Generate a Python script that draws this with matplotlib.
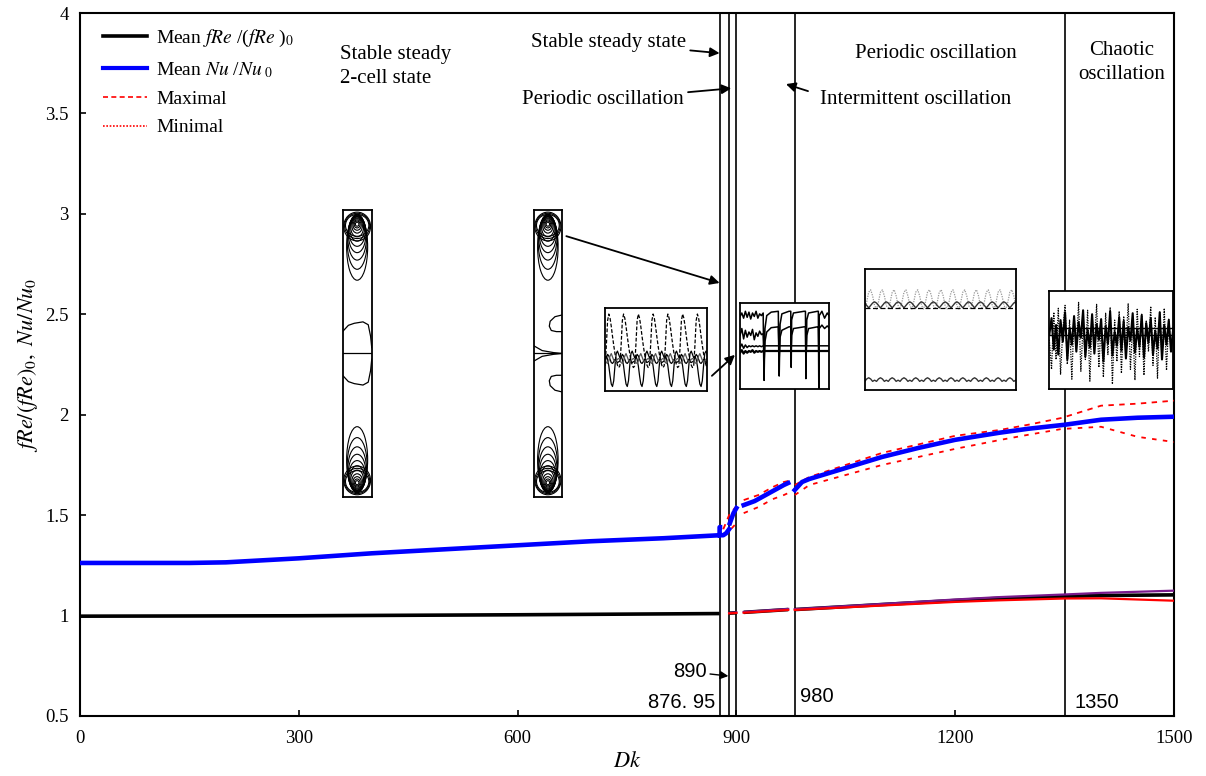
import numpy as np
import matplotlib
matplotlib.use("Agg")
import matplotlib.pyplot as plt
from matplotlib.patches import Ellipse
from matplotlib.lines import Line2D

plt.rcParams['font.family'] = ['Liberation Serif', 'DejaVu Serif']
plt.rcParams['mathtext.fontset'] = 'stix'

nan = np.nan

# ---- main curves (NaN separates branches) ----
dk_nu = [0, 100, 150, 200, 300, 400, 500, 600, 700, 800, 876.95, 877.0, 877.5,
         nan, 877.6, 882, 886, 890, nan, 891, 893, 896, 900,
         nan, 910, 925, 940, 955, 965, 971,
         nan, 980, 990, 1000, 1050, 1100, 1150, 1200, 1260, 1300, 1350, 1400, 1450, 1500]
nu_mean = [1.262, 1.262, 1.262, 1.265, 1.285, 1.31, 1.33, 1.35, 1.37, 1.385, 1.40, 1.44, 1.44,
           nan, 1.40, 1.40, 1.41, 1.43, nan, 1.46, 1.48, 1.51, 1.535,
           nan, 1.55, 1.57, 1.60, 1.63, 1.65, 1.66,
           nan, 1.625, 1.665, 1.68, 1.735, 1.79, 1.835, 1.875, 1.91, 1.93, 1.95, 1.975, 1.985, 1.99]

dk_nu_ext = [882, 890, 900, nan, 910, 930, 950, 965, 971,
             nan, 980, 1000, 1100, 1200, 1261, 1300, 1346, 1400, 1450, 1500]
nu_max = [1.43, 1.50, 1.545, nan, 1.575, 1.60, 1.64, 1.665, 1.67,
          nan, 1.65, 1.69, 1.81, 1.895, 1.924, 1.95, 1.984, 2.045, 2.055, 2.07]
nu_min = [1.40, 1.42, 1.46, nan, 1.51, 1.54, 1.58, 1.60, 1.61,
          nan, 1.60, 1.65, 1.75, 1.83, 1.874, 1.90, 1.929, 1.94, 1.89, 1.864]

dk_fre = [0, 300, 600, 876.95, nan, 890, 900, nan, 910, 971,
          nan, 980, 1100, 1200, 1261, 1350, 1400, 1500]
fre_mean = [0.997, 0.999, 1.004, 1.01, nan, 1.012, 1.014, nan, 1.016, 1.03,
            nan, 1.03, 1.055, 1.075, 1.086, 1.095, 1.10, 1.103]
fre_max = [nan, nan, nan, nan, nan, 1.013, 1.016, nan, 1.018, 1.033,
           nan, 1.032, 1.058, 1.08, 1.092, 1.105, 1.113, 1.124]
fre_min = [nan, nan, nan, nan, nan, 1.011, 1.013, nan, 1.014, 1.028,
           nan, 1.028, 1.05, 1.068, 1.076, 1.085, 1.086, 1.074]

transition_dk = [876.95, 890, 900, 980, 1350]

x_ticks = [0, 300, 600, 900, 1200, 1500]
y_ticks = [0.5, 1, 1.5, 2, 2.5, 3, 3.5, 4]
y_tick_labels = ['0.5', '1', '1.5', '2', '2.5', '3', '3.5', '4']

# ---- small time-series sketches for the insets ----
# periodic oscillation near Dk = 890 (one period, repeated)
p1_dash = [0.30, 0.55, 0.85, 0.93, 0.88, 0.78, 0.66, 0.55, 0.45, 0.37, 0.31, 0.28]
p1_deep = [0.40, 0.42, 0.38, 0.30, 0.18, 0.08, 0.05, 0.12, 0.30, 0.45, 0.48, 0.44]
p1_mid_a = [0.36, 0.40, 0.44, 0.42, 0.38, 0.34, 0.33, 0.35, 0.38, 0.36, 0.34, 0.35]
p1_mid_b = [0.38, 0.34, 0.33, 0.36, 0.42, 0.45, 0.41, 0.37, 0.35, 0.36, 0.38, 0.39]
p1_periods = 7

# intermittent oscillation
int_t = [0.00, 0.02, 0.04, 0.06, 0.08, 0.10, 0.12, 0.14, 0.16, 0.18, 0.20, 0.22, 0.24, 0.26,
         0.265, 0.27, 0.28, 0.30, 0.35, 0.43, 0.435, 0.44, 0.45, 0.47, 0.55, 0.57, 0.575,
         0.58, 0.60, 0.72, 0.735, 0.74, 0.75, 0.77, 0.87, 0.88, 0.885, 0.89, 0.92, 0.95, 0.98, 1.00]
int_top = [0.84, 0.88, 0.82, 0.90, 0.83, 0.89, 0.81, 0.88, 0.84, 0.90, 0.82, 0.87, 0.85, 0.88,
           0.40, 0.10, 0.70, 0.85, 0.89, 0.90, 0.40, 0.15, 0.75, 0.87, 0.90, 0.90, 0.25,
           0.80, 0.88, 0.90, 0.90, 0.12, 0.80, 0.88, 0.90, 0.90, 0.00, 0.85, 0.90, 0.82, 0.88, 0.85]
int_low = [0.62, 0.70, 0.58, 0.68, 0.60, 0.66, 0.62, 0.69, 0.57, 0.65, 0.61, 0.67, 0.63, 0.64,
           0.55, 0.30, 0.55, 0.66, 0.71, 0.72, 0.55, 0.35, 0.60, 0.68, 0.72, 0.72, 0.45,
           0.62, 0.70, 0.72, 0.72, 0.30, 0.62, 0.70, 0.72, 0.72, 0.40, 0.70, 0.74, 0.70, 0.73, 0.71]
int_mid = [0.48, 0.52, 0.47, 0.51, 0.48, 0.50, 0.49, 0.50, 0.49, 0.50, 0.49, 0.50, 0.49, 0.50,
           0.50, 0.50, 0.50, 0.50, 0.50, 0.50, 0.50, 0.50, 0.50, 0.50, 0.50, 0.50, 0.50,
           0.50, 0.50, 0.50, 0.50, 0.50, 0.50, 0.50, 0.50, 0.50, 0.50, 0.50, 0.50, 0.50, 0.50, 0.50]
int_base = [0.42, 0.45, 0.41, 0.44, 0.42, 0.44, 0.43, 0.45, 0.42, 0.44, 0.43, 0.44, 0.43, 0.44,
            0.44, 0.44, 0.44, 0.44, 0.44, 0.44, 0.44, 0.44, 0.44, 0.44, 0.44, 0.44, 0.44,
            0.44, 0.44, 0.44, 0.44, 0.44, 0.44, 0.44, 0.44, 0.44, 0.44, 0.44, 0.44, 0.44, 0.44, 0.44]

# periodic oscillation at large Dk (one period, repeated)
p2_top = [0.67, 0.73, 0.81, 0.83, 0.78, 0.70]
p2_zig = [0.72, 0.70, 0.68, 0.70, 0.72, 0.73]
p2_flat = [0.68, 0.68, 0.68, 0.68, 0.68, 0.68]
p2_bot = [0.07, 0.09, 0.10, 0.09, 0.07, 0.08]
p2_periods = 13

# chaotic oscillation
ch_solid = [0.55, 0.72, 0.40, 0.65, 0.35, 0.70, 0.48, 0.78, 0.30, 0.62, 0.45, 0.74, 0.38, 0.68,
            0.52, 0.80, 0.33, 0.60, 0.42, 0.76, 0.36, 0.66, 0.50, 0.71, 0.28, 0.64, 0.46, 0.79,
            0.34, 0.58, 0.44, 0.73, 0.39, 0.69, 0.31, 0.63, 0.49, 0.77, 0.37, 0.61, 0.43, 0.75,
            0.32, 0.67, 0.47, 0.72, 0.35, 0.59, 0.41, 0.78, 0.30, 0.65, 0.45, 0.70, 0.38, 0.62]
ch_dotted = [0.50, 0.20, 0.78, 0.30, 0.82, 0.15, 0.60, 0.85, 0.25, 0.70, 0.10, 0.75, 0.40, 0.88,
             0.18, 0.65, 0.30, 0.80, 0.08, 0.72, 0.45, 0.86, 0.22, 0.68, 0.12, 0.77, 0.35, 0.83,
             0.05, 0.70, 0.28, 0.79, 0.16, 0.74, 0.42, 0.87, 0.20, 0.66, 0.09, 0.81, 0.33, 0.76,
             0.14, 0.69, 0.38, 0.84, 0.24, 0.73, 0.11, 0.78, 0.30, 0.82, 0.19, 0.71, 0.40, 0.60]
ch_flat_a = 0.62
ch_flat_b = 0.55

# streamline sketch of a 2-cell vortex pair (box height 10, width 1)
vort_center = [8.70, 8.88, 9.03, 9.15, 9.25, 9.33, 9.39, 9.44, 9.47, 9.49, 9.50]
vort_half_h = [1.15, 0.95, 0.78, 0.64, 0.52, 0.42, 0.33, 0.25, 0.18, 0.12, 0.07]
vort_half_w = [0.36, 0.34, 0.32, 0.30, 0.28, 0.25, 0.22, 0.18, 0.14, 0.10, 0.06]
wall_half_w = [0.46, 0.43, 0.40]
wall_half_h = [0.50, 0.44, 0.38]
wall_center = [9.42, 9.44, 9.46]
bulge_x = [0.0, 0.2, 0.4, 0.7, 0.88, 0.96, 1.0]
bulge_y = [5.76, 5.98, 6.05, 6.10, 6.00, 5.60, 5.20]
lobe_x = [1.0, 0.75, 0.58, 0.55, 0.62, 0.80, 1.0]
lobe_y = [6.34, 6.28, 6.12, 5.95, 5.80, 5.76, 5.76]
pinch_x = [0.0, 0.3, 0.7, 1.0]
pinch_y = [5.27, 5.10, 5.03, 5.0]

fig = plt.figure(figsize=(12.06, 7.76), dpi=100)
ax = fig.add_axes([80 / 1206, 60 / 776, 1094 / 1206, 703 / 776])

for xv in transition_dk:
    ax.axvline(xv, color='black', lw=1.2, zorder=1)

ax.plot(dk_fre, fre_mean, color='black', lw=2.6, zorder=3, solid_capstyle='butt')
ax.plot(dk_fre, fre_max, color='#7a1a8c', lw=1.6, zorder=3)
ax.plot(dk_fre, fre_min, color='red', lw=1.6, zorder=4)
ax.plot(dk_nu_ext, nu_max, color='red', lw=1.3, ls=(0, (3, 3)), zorder=3)
ax.plot(dk_nu_ext, nu_min, color='red', lw=1.3, ls=(0, (2.5, 3.5)), zorder=3)
ax.plot(dk_nu, nu_mean, color='blue', lw=3.3, zorder=4)

ax.set_xlim(0, 1500)
ax.set_ylim(0.5, 4)
ax.set_xticks(x_ticks)
ax.set_xticklabels([str(v) for v in x_ticks], fontsize=13.5)
ax.set_yticks(y_ticks)
ax.set_yticklabels(y_tick_labels, fontsize=13.5)
ax.tick_params(axis='x', direction='in', length=4, width=1.2, pad=10)
ax.tick_params(axis='y', direction='in', length=4, width=1.2, pad=8)
for s in ax.spines.values():
    s.set_linewidth(1.5)
ax.set_xlabel('$Dk$', fontsize=16, labelpad=4)
ax.set_ylabel(r'$fRe/(fRe)_0,\ Nu/Nu_0$', fontsize=16, labelpad=4)

handles = [Line2D([], [], color='black', lw=2.6),
           Line2D([], [], color='blue', lw=3.0),
           Line2D([], [], color='red', lw=1.2, ls=(0, (3, 2))),
           Line2D([], [], color='red', lw=1.2, ls=(0, (1, 1)))]
labels = [r'Mean $fRe$ /($fRe$ )$_0$', r'Mean $Nu$ /$Nu$$_{\ 0}$', 'Maximal', 'Minimal']
ax.legend(handles, labels, loc='upper left', bbox_to_anchor=(0.01, 0.995), frameon=False,
          fontsize=14, handlelength=2.3, handletextpad=0.45, labelspacing=0.55,
          borderaxespad=0.2)

# ---- regime annotations ----
tkw = dict(fontsize=15, color='black')
akw = dict(arrowstyle='-|>', color='black', lw=1.3, mutation_scale=14, shrinkA=1, shrinkB=0)
ax.text(357, 3.735, 'Stable steady\n2-cell state', ha='left', va='center', linespacing=1.35, **tkw)
ax.annotate('Stable steady state', xy=(876.95, 3.80), xytext=(831, 3.852),
            ha='right', va='center', arrowprops=akw, **tkw)
ax.annotate('Periodic oscillation', xy=(893, 3.625), xytext=(828, 3.568),
            ha='right', va='center', arrowprops=akw, **tkw)
ax.annotate('', xy=(968, 3.646), xytext=(1000, 3.609), arrowprops=akw)
ax.text(1015, 3.568, 'Intermittent oscillation', ha='left', va='center', **tkw)
ax.text(1174, 3.80, 'Periodic oscillation', ha='center', va='center', **tkw)
ax.text(1428, 3.755, 'Chaotic\noscillation', ha='center', va='center', linespacing=1.35, **tkw)

nkw = dict(fontsize=14.5, family=['Liberation Sans', 'DejaVu Sans'], color='black')
ax.annotate('890', xy=(889, 0.699), xytext=(860, 0.72), ha='right', va='center',
            arrowprops=dict(arrowstyle='-|>', color='black', lw=1.0, mutation_scale=12,
                            shrinkA=0, shrinkB=0), **nkw)
ax.text(871, 0.565, '876. 95', ha='right', va='center', **nkw)
ax.text(987, 0.598, '980', ha='left', va='center', **nkw)
ax.text(1364, 0.565, '1350', ha='left', va='center', **nkw)

# arrows from the sketches to the transition lines
ax.annotate('', xy=(877, 2.656), xytext=(665, 2.891), arrowprops=akw)
ax.annotate('', xy=(898, 2.298), xytext=(865, 2.189), arrowprops=akw)


def make_inset(bounds):
    a = ax.inset_axes(bounds, transform=ax.transData, zorder=6)
    a.set_facecolor('white')
    a.set_xticks([])
    a.set_yticks([])
    for s in a.spines.values():
        s.set_linewidth(1.3)
    return a


def vortex_box(bounds, middle):
    a = make_inset(bounds)
    a.set_xlim(0, 1)
    a.set_ylim(0, 10)
    for c, hh, hw in zip(vort_center, vort_half_h, vort_half_w):
        for cy in (c, 10 - c):
            a.add_patch(Ellipse((0.5, cy), 2 * hw, 2 * hh, fill=False, lw=0.8, ec='black'))
    for c, hh, hw in zip(wall_center, wall_half_h, wall_half_w):
        for cy in (c, 10 - c):
            a.add_patch(Ellipse((0.5, cy), 2 * hw, 2 * hh, fill=False, lw=0.8, ec='black'))
    a.plot([0, 1], [5, 5], color='black', lw=0.9)
    if middle == 'bulge':
        a.plot(bulge_x, bulge_y, color='black', lw=0.9)
        a.plot(bulge_x, [10 - v for v in bulge_y], color='black', lw=0.9)
    else:
        a.plot(lobe_x, lobe_y, color='black', lw=0.9)
        a.plot(lobe_x, [10 - v for v in lobe_y], color='black', lw=0.9)
        a.plot(pinch_x, pinch_y, color='black', lw=0.9)
        a.plot(pinch_x, [10 - v for v in pinch_y], color='black', lw=0.9)
    return a


vortex_box([360, 1.59, 40, 1.43], 'bulge')
vortex_box([622, 1.59, 39, 1.43], 'lobes')

# periodic oscillation sketch near Dk = 890
a3 = make_inset([720, 2.12, 140, 0.41])
t3 = np.arange(len(p1_dash) * p1_periods)
a3.plot(t3, np.tile(p1_dash, p1_periods), color='black', lw=0.9, ls=(0, (3, 1.5)))
a3.plot(t3, np.tile(p1_deep, p1_periods), color='black', lw=0.9)
a3.plot(t3, np.tile(p1_mid_a, p1_periods), color='black', lw=0.9)
a3.plot(t3, np.tile(p1_mid_b, p1_periods), color='#555555', lw=0.9)
a3.set_xlim(t3[0], t3[-1])
a3.set_ylim(0, 1)

# intermittent oscillation sketch
a4 = make_inset([905, 2.128, 122, 0.43])
a4.plot(int_t, int_top, color='black', lw=1.1)
a4.plot(int_t, int_low, color='black', lw=1.1)
a4.plot(int_t, int_mid, color='black', lw=1.1)
a4.plot(int_t, int_base, color='black', lw=1.6)
a4.set_xlim(0, 1)
a4.set_ylim(0, 1)

# periodic oscillation sketch at larger Dk
a5 = make_inset([1076, 2.124, 207, 0.60])
t5 = np.arange(len(p2_top) * p2_periods)
a5.plot(t5, np.tile(p2_top, p2_periods), color='#999999', lw=0.9, ls=(0, (1, 1)))
a5.plot(t5, np.tile(p2_zig, p2_periods), color='#333333', lw=1.0)
a5.plot(t5, np.tile(p2_flat, p2_periods), color='black', lw=0.9, ls=(0, (4, 2)))
a5.plot(t5, np.tile(p2_bot, p2_periods), color='#333333', lw=1.0)
a5.set_xlim(t5[0], t5[-1])
a5.set_ylim(0, 1)

# chaotic oscillation sketch
a6 = make_inset([1329, 2.128, 170, 0.49])
t6 = np.arange(len(ch_solid))
a6.plot(t6, ch_dotted, color='black', lw=0.9, ls=(0, (1, 1)))
a6.plot(t6, ch_solid, color='black', lw=1.5)
a6.axhline(ch_flat_a, color='black', lw=1.0)
a6.axhline(ch_flat_b, color='black', lw=1.0)
a6.set_xlim(0, len(ch_solid) - 1)
a6.set_ylim(0, 1)

fig.savefig('out.png', dpi=100)
